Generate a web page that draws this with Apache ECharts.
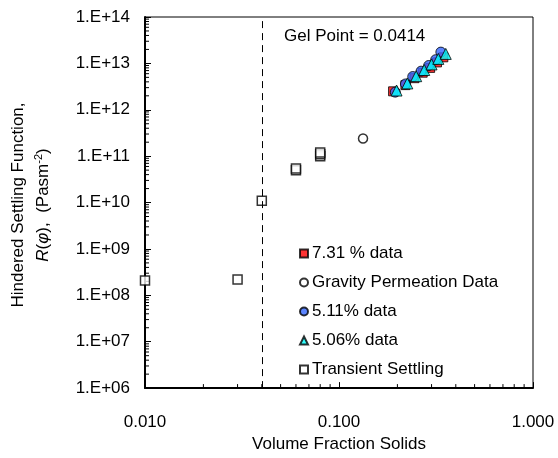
<!DOCTYPE html>
<html><head><meta charset="utf-8">
<script src="https://cdn.jsdelivr.net/npm/echarts@6/dist/echarts.min.js"></script>
<style>html,body{margin:0;padding:0;background:#fff}#c{width:558px;height:458px}</style>
</head><body><div id="c"></div>
<script>
// ---- data ----
const transientX = [0.010, 0.030, 0.040, 0.060, 0.060, 0.080, 0.080, 0.080];
const transientY = [2.1e8, 2.2e8, 1.1e10, 5.0e10, 5.4e10, 1.0e11, 1.1e11, 1.2e11];
const gravityX = [0.133];
const gravityY = [2.4e11];
const d731X = [0.190, 0.220, 0.245, 0.270, 0.295, 0.320, 0.345];
const d731Y = [2.5e12, 3.4e12, 4.8e12, 6.3e12, 8.0e12, 1.05e13, 1.35e13];
const d511X = [0.195, 0.220, 0.240, 0.265, 0.290, 0.315, 0.335];
const d511Y = [2.4e12, 3.6e12, 5.2e12, 6.8e12, 9.0e12, 1.2e13, 1.75e13];
const d506X = [0.198, 0.225, 0.250, 0.275, 0.300, 0.325, 0.355];
const d506Y = [2.6e12, 3.7e12, 5.3e12, 7.2e12, 9.5e12, 1.25e13, 1.6e13];
const gelPoint = 0.0414;
const names = ['7.31 % data', 'Gravity Permeation Data', '5.11% data', '5.06% data', 'Transient Settling'];

const zip = (a, b) => a.map((v, i) => [v, b[i]]);
const FONT = 'Liberation Sans, Arial, sans-serif';
const FS = 17;

// minor tick values (log axes)
const xMinor = [], yMinor = [];
for (let e = -2; e < 0; e++) for (let m = 2; m <= 9; m++) xMinor.push(m * Math.pow(10, e));
for (let e = 6; e < 14; e++) for (let m = 2; m <= 9; m++) yMinor.push(m * Math.pow(10, e));

const chart = echarts.init(document.getElementById('c'));
const option = {
  animation: false,
  textStyle: { fontFamily: FONT },
  grid: { left: 145, right: 25, top: 17, bottom: 63, show: true, borderColor: '#000', borderWidth: 1 },
  xAxis: {
    type: 'log', min: 0.01, max: 1, logBase: 10,
    axisLine: { show: true, lineStyle: { color: '#000', width: 2 } },
    axisTick: { show: true, inside: true, length: 6, lineStyle: { color: '#000' } },
    axisLabel: { color: '#000', fontSize: FS, fontFamily: FONT, margin: 26,
      formatter: v => Number(v).toFixed(3) },
    splitLine: { show: false },
    name: 'Volume Fraction Solids', nameLocation: 'middle', nameGap: 46,
    nameTextStyle: { color: '#000', fontSize: FS, fontFamily: FONT }
  },
  yAxis: {
    type: 'log', min: 1e6, max: 1e14, logBase: 10,
    axisLine: { show: true, lineStyle: { color: '#000', width: 2 } },
    axisTick: { show: true, inside: true, length: 6, lineStyle: { color: '#000' } },
    axisLabel: { color: '#000', fontSize: FS, fontFamily: FONT, margin: 15,
      formatter: v => '1.E+' + String(Math.round(Math.log10(v))).padStart(2, '0') },
    splitLine: { show: false }
  },
  legend: {
    orient: 'vertical', left: 294, top: 240, itemGap: 12, itemWidth: 8, itemHeight: 8,
    data: names,
    textStyle: { color: '#000', fontSize: FS, fontFamily: FONT, padding: [0,0,0,-1] }
  },
  graphic: [
    { type: 'text', left: 284, top: 28, style: { text: 'Gel Point = 0.0414', fill: '#000', font: FS + 'px ' + FONT } },
    { type: 'text', x: 18, y: 205, rotation: Math.PI / 2,
      style: { text: 'Hindered Settling Function,', fill: '#000', font: FS + 'px ' + FONT, align: 'center', verticalAlign: 'middle' } },
    { type: 'text', x: 43, y: 205, rotation: Math.PI / 2,
      style: { text: '{i|R}({i|φ}),  (Pasm{s|-2})', fill: '#000', font: FS + 'px ' + FONT, align: 'center', verticalAlign: 'middle',
        rich: { i: { fontStyle: 'italic', fontSize: FS, fontFamily: FONT, fill: '#000' },
                s: { fontSize: 11, fontFamily: FONT, fill: '#000', verticalAlign: 'top', padding: [0,0,8,0] } } } }
  ],
  series: [
    { name: names[4], type: 'scatter', data: zip(transientX, transientY), symbol: 'rect', symbolSize: 9, z: 3,
      itemStyle: { color: '#fff', borderColor: '#000', borderWidth: 1.5 },
      markLine: { silent: true, symbol: 'none', label: { show: false },
        lineStyle: { color: '#000', type: [7, 5], width: 1 }, data: [{ xAxis: gelPoint }] } },
    { name: names[1], type: 'scatter', data: zip(gravityX, gravityY), symbol: 'circle', symbolSize: 9,
      itemStyle: { color: '#fff', borderColor: '#000', borderWidth: 1.5 } },
    { name: names[0], type: 'scatter', data: zip(d731X, d731Y), symbol: 'rect', symbolSize: 9,
      itemStyle: { color: '#ff0000', borderColor: '#000', borderWidth: 1 } },
    { name: names[2], type: 'scatter', data: zip(d511X, d511Y), symbol: 'circle', symbolSize: 10,
      itemStyle: { color: '#3366ff', borderColor: '#000', borderWidth: 1 } },
    { name: names[3], type: 'scatter', data: zip(d506X, d506Y), symbol: 'triangle', symbolSize: 11,
      itemStyle: { color: '#00ffff', borderColor: '#000', borderWidth: 1 } },
    { type: 'custom', silent: true, z: 1, data: xMinor.map(v => [v]),
      renderItem: (params, api) => { const p = api.coord([api.value(0), 1e6]);
        return { type: 'line', shape: { x1: p[0], y1: p[1], x2: p[0], y2: p[1] - 4 }, style: { stroke: '#000', lineWidth: 1 } }; },
      encode: { x: 0 } },
    { type: 'custom', silent: true, z: 1, data: yMinor.map(v => [v]),
      renderItem: (params, api) => { const p = api.coord([0.01, api.value(0)]);
        return { type: 'line', shape: { x1: p[0], y1: p[1], x2: p[0] + 4, y2: p[1] }, style: { stroke: '#000', lineWidth: 1 } }; },
      encode: { y: 0 } }
  ]
};
chart.setOption(option);
</script></body></html>
